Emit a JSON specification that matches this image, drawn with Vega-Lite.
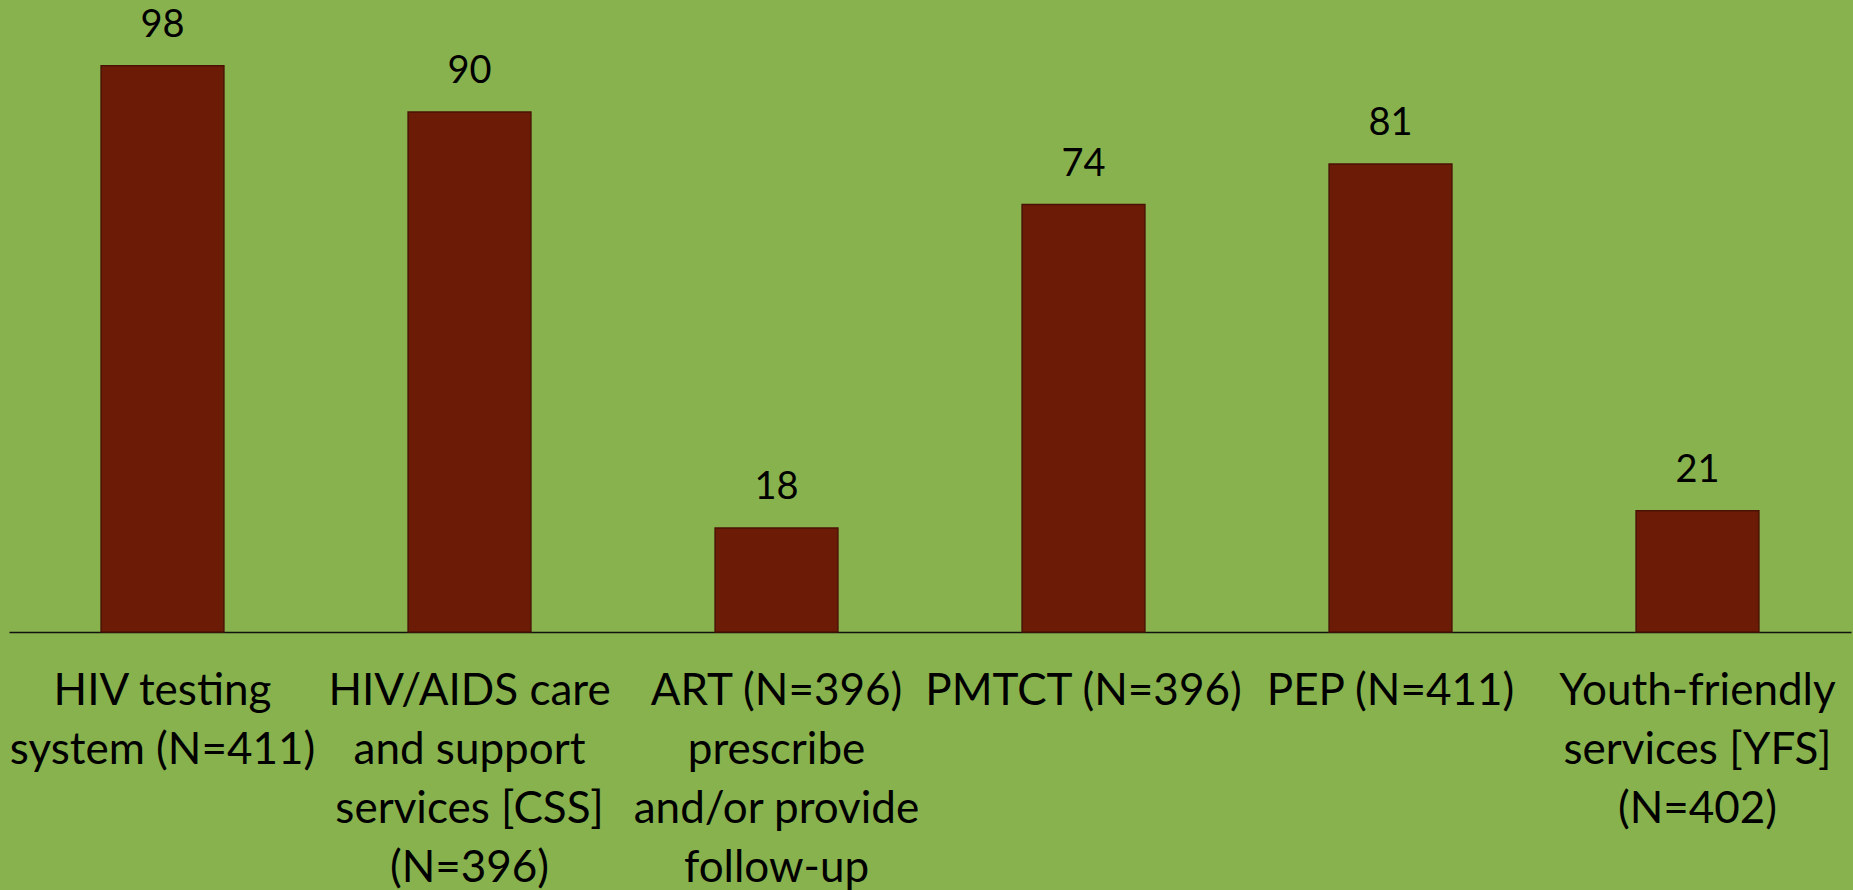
{
  "$schema": "https://vega.github.io/schema/vega-lite/v6.json",
  "width": 1842,
  "height": 632,
  "autosize": "none",
  "padding": {"left": 9, "top": 0, "right": 2, "bottom": 258},
  "background": "#88B24E",
  "config": {"view": {"stroke": null}, "font": "Lato"},
  "data": {
    "values": [
      {"category": "HIV testing|system (N=411)", "value": 98},
      {"category": "HIV/AIDS care|and support|services [CSS]|(N=396)", "value": 90},
      {"category": "ART (N=396)|prescribe|and/or provide|follow-up", "value": 18},
      {"category": "PMTCT (N=396)", "value": 74},
      {"category": "PEP (N=411)", "value": 81},
      {"category": "Youth-friendly|services [YFS]|(N=402)", "value": 21}
    ]
  },
  "encoding": {
    "x": {
      "field": "category",
      "type": "nominal",
      "sort": null,
      "title": null,
      "scale": {"paddingInner": 0.6, "paddingOuter": 0.3},
      "axis": {
        "labelExpr": "split(datum.label, '|')",
        "labelAngle": 0,
        "labelLimit": 0,
        "labelOverlap": false,
        "labelFont": "Lato",
        "labelFontSize": 44,
        "labelLineHeight": 59,
        "labelColor": "#000000",
        "labelBaseline": "top",
        "labelPadding": 37,
        "ticks": false,
        "domainColor": "#111111",
        "domainWidth": 1.5
      }
    },
    "y": {
      "field": "value",
      "type": "quantitative",
      "scale": {"domain": [0, 109.4], "nice": false},
      "axis": null
    }
  },
  "layer": [
    {
      "mark": {"type": "bar", "color": "#6C1B07", "stroke": "#4A1204", "strokeWidth": 1.5}
    },
    {
      "mark": {"type": "text", "baseline": "middle", "dy": -40, "fontSize": 38, "font": "Lato", "color": "#000000"},
      "encoding": {"text": {"field": "value", "type": "quantitative"}}
    }
  ]
}
